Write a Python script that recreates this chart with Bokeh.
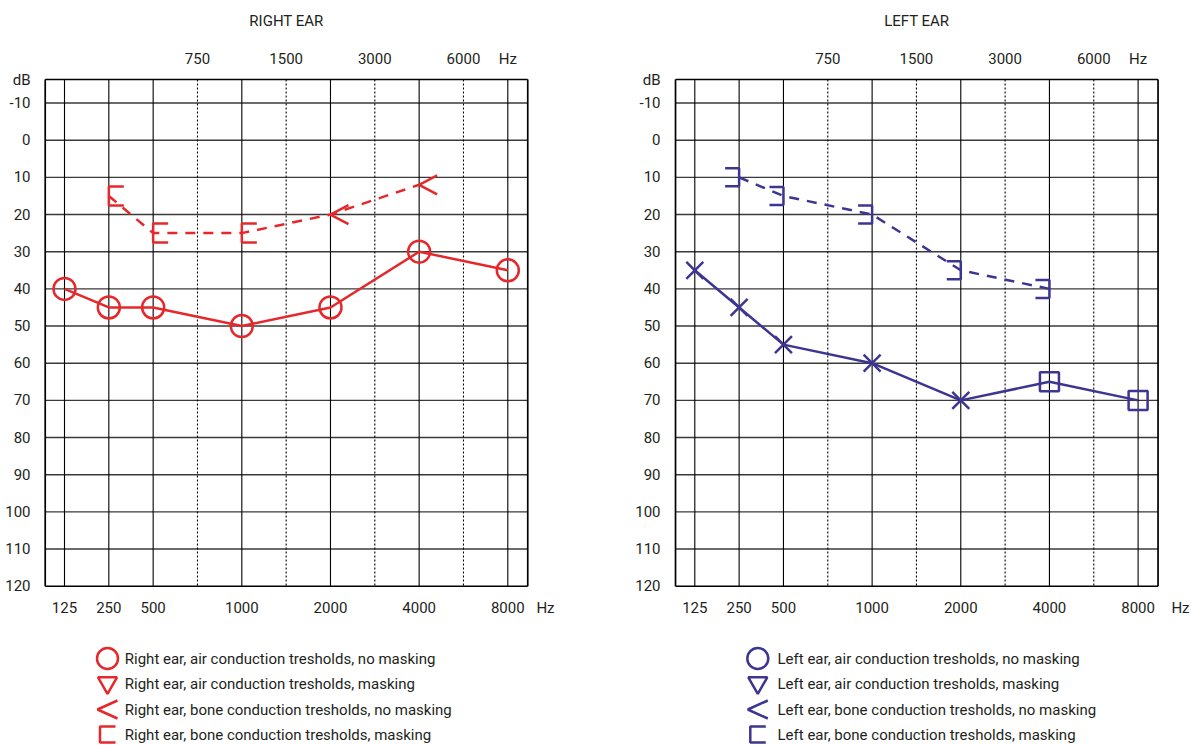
from bokeh.plotting import figure
from bokeh.layouts import row, column
from bokeh.models import Range1d, FixedTicker, LinearAxis
from bokeh.embed import file_html
from bokeh.resources import INLINE
from bokeh.core.properties import value

# ---------------- data ----------------
FREQS = ["125", "250", "500", "750", "1000", "1500", "2000", "3000", "4000", "6000", "8000"]
MAIN_FREQS = ["125", "250", "500", "1000", "2000", "4000", "8000"]
MID_FREQS = ["750", "1500", "3000", "6000"]
DB_TICKS = [-10, 0, 10, 20, 30, 40, 50, 60, 70, 80, 90, 100, 110, 120]

right_air_freqs = ["125", "250", "500", "1000", "2000", "4000", "8000"]
right_air_db = [40, 45, 45, 50, 45, 30, 35]
right_bone_masked_freqs = ["250", "500", "1000"]
right_bone_masked_db = [15, 25, 25]
right_bone_freqs = ["2000", "4000"]
right_bone_db = [20, 12]

left_air_freqs = ["125", "250", "500", "1000", "2000"]
left_air_db = [35, 45, 55, 60, 70]
left_air_masked_freqs = ["4000", "8000"]
left_air_masked_db = [65, 70]
left_bone_masked_freqs = ["250", "500", "1000", "2000", "4000"]
left_bone_masked_db = [10, 15, 20, 35, 40]

right_legend = ["Right ear, air conduction tresholds, no masking",
                "Right ear, air conduction tresholds, masking",
                "Right ear, bone conduction tresholds, no masking",
                "Right ear, bone conduction tresholds, masking"]
left_legend = ["Left ear, air conduction tresholds, no masking",
               "Left ear, air conduction tresholds, masking",
               "Left ear, bone conduction tresholds, no masking",
               "Left ear, bone conduction tresholds, masking"]

# ---------------- style ----------------
FONT = "Roboto"
TXT = "#231f20"
RED = "#e5282c"
BLUE = "#3d3592"
PX_X = 44.33           # px per frequency slot
PX_DB = 3.717          # px per dB
X0, X1 = -0.435, 10.45          # visible chart box (frequency slots)
Y_TOP, Y_BOT = -16.33, 120      # visible chart box (dB)
BORDER_TOP = 77
FRAME_H = 511
CHART_H = 628


def pos(freqs):
    return [FREQS.index(f) for f in freqs]


def style_axis(ax, standoff, size="15px"):
    ax.axis_line_color = None
    ax.major_tick_line_color = None
    ax.minor_tick_line_color = None
    ax.major_tick_out = 0
    ax.major_tick_in = 0
    ax.minor_tick_out = 0
    ax.minor_tick_in = 0
    ax.major_label_text_font = FONT
    ax.major_label_text_font_size = size
    ax.major_label_text_color = TXT
    ax.major_label_standoff = standoff


def chart(title, border_left, frame_w, x_start, hz_pos):
    x_end = x_start + frame_w / PX_X
    y_top = Y_TOP - 2 / PX_DB
    y_bot = y_top + FRAME_H / PX_DB
    p = figure(width=border_left + frame_w, height=CHART_H,
               x_range=Range1d(x_start, x_end), y_range=Range1d(y_bot, y_top),
               x_axis_type=None, y_axis_type=None,
               output_backend="svg", toolbar_location=None,
               min_border_left=border_left, min_border_right=0,
               min_border_top=BORDER_TOP, min_border_bottom=CHART_H - BORDER_TOP - FRAME_H)
    p.outline_line_color = None
    p.xgrid.visible = False
    p.ygrid.visible = False

    ya = LinearAxis(ticker=FixedTicker(ticks=DB_TICKS + [Y_TOP]),
                    major_label_overrides={**{t: str(t) for t in DB_TICKS}, Y_TOP: "dB"})
    style_axis(ya, 13)
    p.add_layout(ya, "left")

    bt = pos(MAIN_FREQS) + [hz_pos]
    xb = LinearAxis(ticker=FixedTicker(ticks=bt),
                    major_label_overrides={i: f for i, f in zip(bt, MAIN_FREQS + ["Hz"])})
    style_axis(xb, 10)
    p.add_layout(xb, "below")

    top_pos = pos(MID_FREQS) + [FREQS.index("8000")]
    xt = LinearAxis(ticker=FixedTicker(ticks=top_pos),
                    major_label_overrides={i: f for i, f in zip(top_pos, MID_FREQS + ["Hz"])})
    style_axis(xt, 10)
    p.add_layout(xt, "above")

    xmid = (X0 + X1) / 2
    tt = LinearAxis(ticker=FixedTicker(ticks=[xmid]), major_label_overrides={xmid: title})
    style_axis(tt, 17, "15px")
    p.add_layout(tt, "above")

    # chart grid
    hdb = DB_TICKS[:-1]
    p.segment(x0=[X0] * len(hdb), x1=[X1] * len(hdb), y0=hdb, y1=hdb,
              line_color="#3a3a3a", line_width=1.4)
    mp = pos(MAIN_FREQS)
    p.segment(x0=mp, x1=mp, y0=[Y_TOP] * len(mp), y1=[Y_BOT] * len(mp),
              line_color="black", line_width=1.1)
    dp = pos(MID_FREQS)
    p.segment(x0=dp, x1=dp, y0=[Y_TOP] * len(dp), y1=[Y_BOT] * len(dp),
              line_color="black", line_width=1.1, line_dash="2 2")
    # box
    p.segment(x0=[X0, X1], x1=[X0, X1], y0=[Y_TOP, Y_TOP], y1=[Y_BOT, Y_BOT],
              line_color="black", line_width=1.7)
    p.segment(x0=[X0, X0], x1=[X1, X1], y0=[Y_TOP, Y_BOT], y1=[Y_TOP, Y_BOT],
              line_color="black", line_width=1.7)
    return p


def bracket(xs, ys, direction, w_px=15, h_px=19):
    w = direction * w_px / PX_X
    h = h_px / 2 / PX_DB
    mx = [[x + w, x, x, x + w] for x in xs]
    my = [[y - h, y - h, y + h, y + h] for y in ys]
    return mx, my


def chevron(xs, ys, w_px=18, h_px=19):
    w = w_px / PX_X
    h = h_px / 2 / PX_DB
    mx = [[x + w, x, x + w] for x in xs]
    my = [[y - h, y, y + h] for y in ys]
    return mx, my


def legend_fig(width, border_left, labels, color, mx, tx):
    # x and y in pixels relative to the figure's top-left corner
    H = 745 - CHART_H
    q = figure(width=width, height=H, x_range=Range1d(border_left, width),
               y_range=Range1d(H, 0),
               x_axis_type=None, y_axis_type=None, output_backend="svg",
               toolbar_location=None, min_border=0, min_border_left=border_left)
    q.outline_line_color = None
    q.xgrid.visible = False
    q.ygrid.visible = False
    rows = [y - CHART_H for y in (658, 683.3, 709, 734)]
    q.scatter([mx], [rows[0]], marker="circle", size=21, fill_color=None,
              line_color=color, line_width=2.5)
    q.scatter([mx], [rows[1] - 1], marker="inverted_triangle", size=19, fill_color=None,
              line_color=color, line_width=2.5)
    q.multi_line([[mx + 10, mx - 10, mx + 10]], [[rows[2] - 9, rows[2], rows[2] + 9]],
                 line_color=color, line_width=2.5)
    q.multi_line([[mx + 8, mx - 7.5, mx - 7.5, mx + 8]],
                 [[rows[3] - 8, rows[3] - 8, rows[3] + 8, rows[3] + 8]],
                 line_color=color, line_width=2.5)
    q.text(x=[tx] * 4, y=rows, text=labels, text_font=value(FONT),
           text_font_size=value("15px"), text_color=TXT, text_baseline="middle",
           text_align="left")
    return q


# ---------------- right ear ----------------
pr = chart("RIGHT EAR", 43, 555, (43 - 64) / PX_X, (545 - 64) / PX_X)
pr.line(pos(right_air_freqs), right_air_db, line_color=RED, line_width=2.5)
pr.scatter(pos(right_air_freqs), right_air_db, marker="circle", size=22,
           fill_color=None, line_color=RED, line_width=2.5)
bone_f = right_bone_masked_freqs + right_bone_freqs
bone_d = right_bone_masked_db + right_bone_db
pr.line(pos(bone_f), bone_d, line_color=RED, line_width=2.5, line_dash="10 8")
bx, by = bracket(pos(right_bone_masked_freqs), right_bone_masked_db, +1)
pr.multi_line(bx, by, line_color=RED, line_width=2.5)
cx, cy = chevron(pos(right_bone_freqs), right_bone_db)
pr.multi_line(cx, cy, line_color=RED, line_width=2.5)

# ---------------- left ear ----------------
pl = chart("LEFT EAR", 75, 518, (673 - 694.3) / PX_X, (1180 - 694.3) / PX_X)
air_f = left_air_freqs + left_air_masked_freqs
air_d = left_air_db + left_air_masked_db
pl.line(pos(air_f), air_d, line_color=BLUE, line_width=2.5)
pl.scatter(pos(left_air_freqs), left_air_db, marker="x", size=24,
           line_color=BLUE, line_width=2.5)
pl.scatter(pos(left_air_masked_freqs), left_air_masked_db, marker="square", size=19,
           fill_color=None, line_color=BLUE, line_width=2.5)
pl.line(pos(left_bone_masked_freqs), left_bone_masked_db, line_color=BLUE,
        line_width=2.5, line_dash="10 8")
lbx, lby = bracket(pos(left_bone_masked_freqs), left_bone_masked_db, -1, 14, 18)
pl.multi_line(lbx, lby, line_color=BLUE, line_width=2.5)

lr = legend_fig(598, 43, right_legend, RED, 107, 124.3)
ll = legend_fig(593, 75, left_legend, BLUE, 159.3, 179)

layout = row(column(pr, lr), column(pl, ll))

html = file_html(layout, INLINE)
html = html.replace("<head>", "<head><style>html,body{overflow:hidden;}</style>", 1)
open("out.html", "w").write(html)
